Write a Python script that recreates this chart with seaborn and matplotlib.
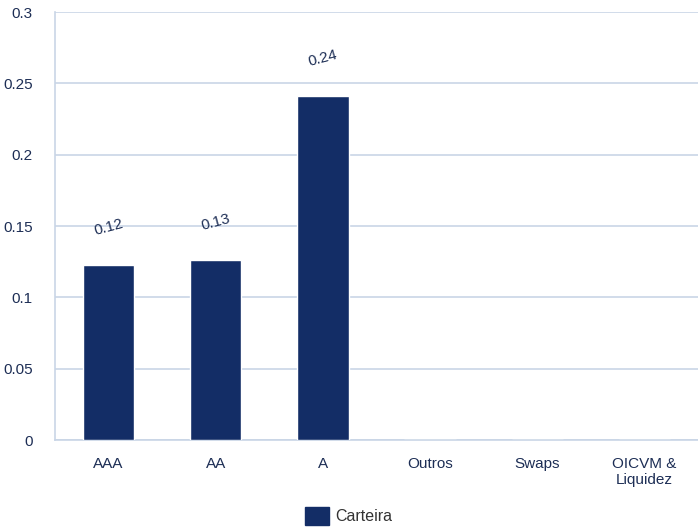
import matplotlib
matplotlib.use("Agg")

import numpy as np
import pandas as pd
import matplotlib.pyplot as plt
import seaborn as sns

# Data
categories = ["AAA", "AA", "A", "Outros", "Swaps", "OICVM &\nLiquidez"]
values = [0.123, 0.126, 0.241, 0.0, 0.0, 0.0]
labels = ["0.12", "0.13", "0.24", "", "", ""]
series_name = "Carteira"

bar_color = "#132d66"
grid_color = "#c9d5e6"
text_color = "#1d2e55"

sns.set_theme(style="white")
plt.rcParams["font.family"] = ["Liberation Sans", "DejaVu Sans"]

df = pd.DataFrame({"cat": categories, "val": values})

fig = plt.figure(figsize=(6.98, 5.30), dpi=100)
ax = fig.add_axes([55 / 698, 1 - 440 / 530, 643 / 698, 428 / 530])

sns.barplot(data=df, x="cat", y="val", color=bar_color, saturation=1,
            width=0.48, ax=ax, zorder=3)

ax.set_ylim(0, 0.3)
ax.set_xlim(-0.5, len(categories) - 0.5)
ax.set_yticks(np.arange(0, 0.301, 0.05))
ax.set_yticklabels(["0", "0.05", "0.1", "0.15", "0.2", "0.25", "0.3"])
ax.yaxis.grid(True, color=grid_color, linewidth=1.2, zorder=0)
ax.set_axisbelow(True)

for s in ["top", "right"]:
    ax.spines[s].set_visible(False)
for s in ["left", "bottom"]:
    ax.spines[s].set_color(grid_color)
    ax.spines[s].set_linewidth(1.2)

ax.tick_params(axis="y", length=0, pad=16, labelsize=11, labelcolor=text_color)
ax.tick_params(axis="x", length=0, pad=12, labelsize=11, labelcolor=text_color)
ax.set_xticks(np.arange(-0.5, len(categories), 1.0), minor=True)
ax.tick_params(axis="x", which="minor", length=9, width=1.2, color=grid_color, direction="out")
ax.set_xlabel("")
ax.set_ylabel("")

for i, (v, lab) in enumerate(zip(values, labels)):
    if lab:
        ax.annotate(lab, (i, v), xytext=(0, 27), textcoords="offset points",
                    ha="center", va="center", rotation=15,
                    fontsize=11, color=text_color)

handle = plt.Rectangle((0, 0), 1, 1, color=bar_color)
fig.legend([handle], [series_name], loc="center", bbox_to_anchor=(0.5, 1 - 516 / 530),
           frameon=False, fontsize=11.5, handlelength=1.5, handleheight=1.3,
           handletextpad=0.4, labelcolor="#333333")

fig.savefig("out.png", dpi=100)
